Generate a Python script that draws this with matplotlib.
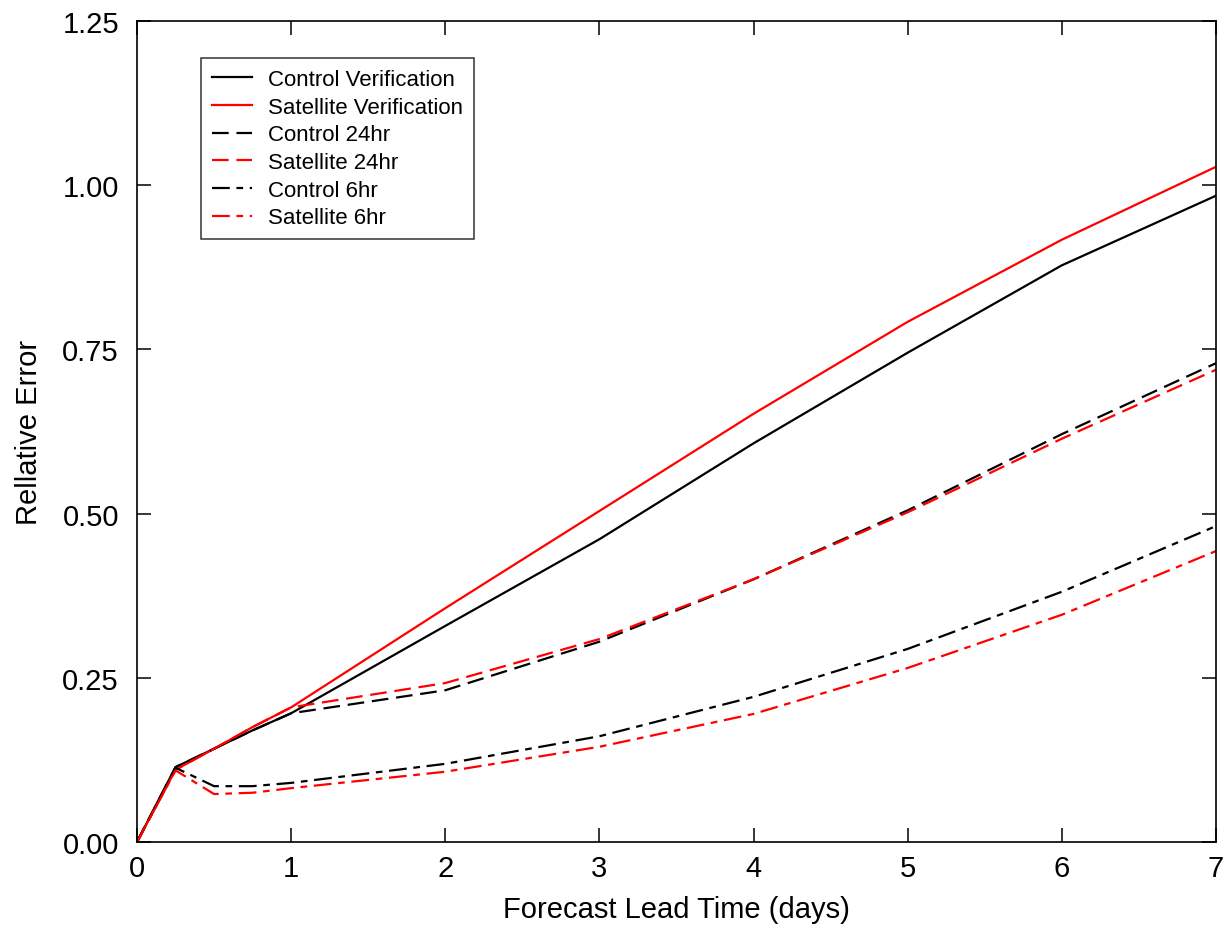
import matplotlib
matplotlib.use("Agg")
import matplotlib.pyplot as plt

plt.rcParams['font.family'] = ['Liberation Sans', 'DejaVu Sans']

days = [0, 0.25, 0.5, 0.75, 1, 2, 3, 4, 5, 6, 7]
control_verif = [0, 0.114, 0.142, 0.170, 0.196, 0.329, 0.461, 0.607, 0.745, 0.878, 0.984]
satellite_verif = [0, 0.110, 0.142, 0.175, 0.205, 0.356, 0.504, 0.652, 0.792, 0.917, 1.028]
control_24 = [0, 0.114, 0.142, 0.170, 0.196, 0.231, 0.305, 0.400, 0.505, 0.621, 0.729]
satellite_24 = [0, 0.110, 0.142, 0.175, 0.205, 0.242, 0.309, 0.400, 0.502, 0.614, 0.719]
control_6 = [0, 0.113, 0.085, 0.085, 0.090, 0.119, 0.161, 0.221, 0.294, 0.381, 0.481]
satellite_6 = [0, 0.109, 0.073, 0.075, 0.082, 0.107, 0.145, 0.195, 0.265, 0.346, 0.443]

xticks = [0, 1, 2, 3, 4, 5, 6, 7]
yticks = [0.0, 0.25, 0.5, 0.75, 1.0, 1.25]

fig = plt.figure(figsize=(12.31, 9.28), dpi=100)
ax = fig.add_axes([0.1113, 0.0916, 0.8765, 0.8847])

lw = 1.6
dash24 = (0, (7.5, 3.5))
dash6 = (0, (8, 3, 3, 3))
ax.plot(days, control_verif, color='black', lw=lw, label='Control Verification')
ax.plot(days, satellite_verif, color='#ff0000', lw=lw, label='Satellite Verification')
ax.plot(days, control_24, color='black', lw=lw, linestyle=dash24, label='Control 24hr')
ax.plot(days, satellite_24, color='#ff0000', lw=lw, linestyle=dash24, label='Satellite 24hr')
ax.plot(days, control_6, color='black', lw=lw, linestyle=dash6, label='Control 6hr')
ax.plot(days, satellite_6, color='#ff0000', lw=lw, linestyle=dash6, label='Satellite 6hr')

ax.set_xlim(0, 7)
ax.set_ylim(0, 1.25)
ax.set_xticks(xticks)
ax.set_xticklabels([str(t) for t in xticks])
ax.set_yticks(yticks)
ax.set_yticklabels([f"{t:.2f}" for t in yticks])
ax.tick_params(direction='in', length=10, width=1.1, top=True, right=True,
               labelsize=21)
ax.tick_params(axis='x', pad=9)
ax.tick_params(axis='y', pad=13)
for s in ax.spines.values():
    s.set_linewidth(1.2)

ax.set_xlabel('Forecast Lead Time (days)', fontsize=21, labelpad=9)
ax.set_ylabel('Rellative Error', fontsize=21, labelpad=14)

leg = ax.legend(loc='upper left', bbox_to_anchor=(0.0595, 0.955), fontsize=16,
                frameon=True, fancybox=False, edgecolor='black',
                handlelength=1.8, handletextpad=0.7, labelspacing=0.30,
                borderpad=0.5, borderaxespad=0)
leg.get_frame().set_linewidth(1.1)

fig.savefig('out.png', dpi=100)
